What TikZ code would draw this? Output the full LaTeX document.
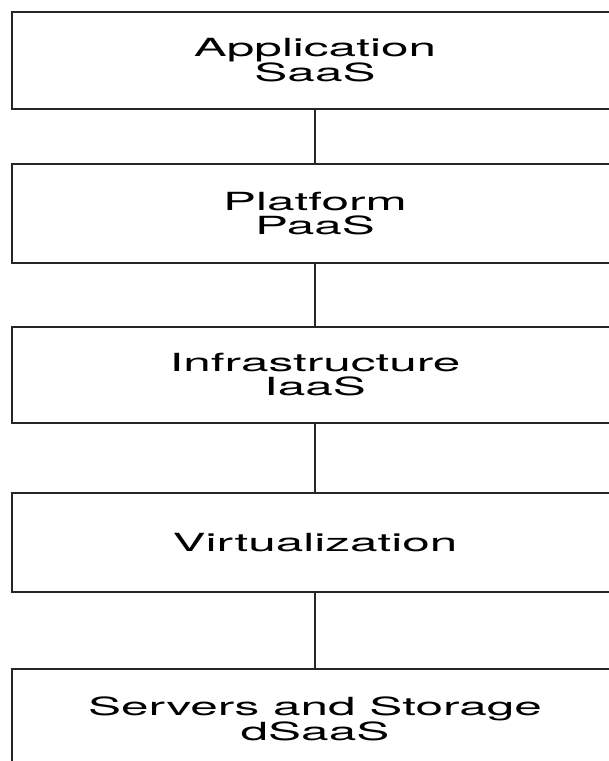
\documentclass[tikz,border=0pt]{standalone}
\usepackage{fontspec}
\setmainfont{TeX Gyre Heros}[FakeStretch=1.98]
\tikzset{
  layer/.style={draw=black!85, line width=1.8pt, minimum width=606pt,
    inner sep=0pt, align=center, font=\fontsize{25}{24}\selectfont},
  link/.style={draw=black!85, line width=1.8pt}
}
\begin{document}
\begin{tikzpicture}
\useasboundingbox (0,0) rectangle (609pt,-761pt);
\clip (0,0) rectangle (609pt,-761pt);
\node[layer, minimum height=97pt] (app)   at (315pt,-60.5pt)  {Application\\SaaS};
\node[layer, minimum height=99pt] (plat)  at (315pt,-213.5pt) {Platform\\PaaS};
\node[layer, minimum height=96pt] (infra) at (315pt,-375pt)   {Infrastructure\\IaaS};
\node[layer, minimum height=99pt] (virt)  at (315pt,-542.5pt) {Virtualization};
\node[layer, minimum height=99pt] (serv)  at (315pt,-718.5pt) {Servers and Storage\\dSaaS};
\draw[link] (app) -- (plat);
\draw[link] (plat) -- (infra);
\draw[link] (infra) -- (virt);
\draw[link] (virt) -- (serv);
\end{tikzpicture}
\end{document}
